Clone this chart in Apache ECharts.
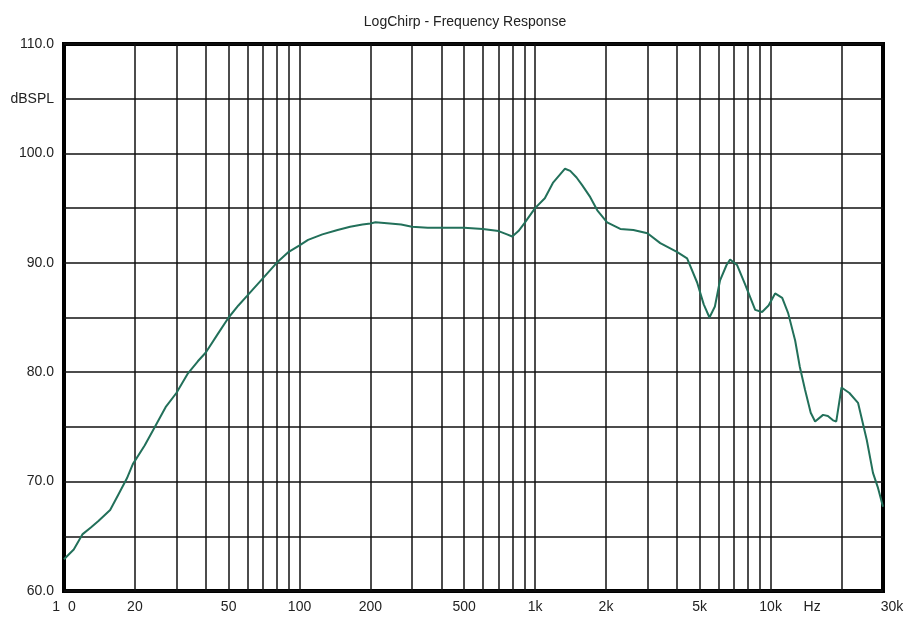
<!DOCTYPE html>
<html>
<head>
<meta charset="utf-8">
<title>LogChirp - Frequency Response</title>
<script src="https://cdn.jsdelivr.net/npm/echarts@6/dist/echarts.min.js"></script>
<style>
    html, body { margin: 0; padding: 0; background: #fff; }
    #chart { width: 906px; height: 624px; }
</style>
</head>
<body>
<div id="chart"></div>
<script>
// measured response (Hz, dBSPL)
const freqs = [
    10, 11, 12, 13, 14, 15.7, 17, 18.5, 19.6, 22, 24.3, 27, 30, 33.6, 37, 40, 45, 50, 55, 60,
    70, 80, 90, 100, 108.7, 125, 145, 164, 185, 200, 210, 242, 270, 300, 350, 400, 500, 600,
    700, 760, 800, 850, 900, 1000, 1100, 1190, 1340, 1410, 1500, 1584, 1715, 1837, 2022, 2300,
    2614, 3000, 3400, 4000, 4420, 4875, 5200, 5500, 5800, 6100, 6500, 6730, 7200, 7800, 8600,
    9200, 9800, 10450, 11200, 11870, 12710, 13300, 14000, 14800, 15450, 16700, 17500, 18400,
    19000, 20000, 21600, 23500, 25600, 27200, 28500, 30000
]
const spl = [
    62.9, 63.8, 65.2, 65.8, 66.4, 67.4, 68.8, 70.3, 71.6, 73.3, 75.0, 76.8, 78.1, 79.9, 81.0, 81.8, 83.5, 85.0, 86.1, 87.0,
    88.6, 90.0, 91.0, 91.6, 92.1, 92.6, 93.0, 93.3, 93.5, 93.6, 93.7, 93.6, 93.5, 93.3, 93.2, 93.2, 93.2, 93.1,
    92.9, 92.6, 92.4, 92.9, 93.6, 95.0, 95.9, 97.3, 98.6, 98.4, 97.8, 97.1, 96.0, 94.8, 93.7, 93.1,
    93.0, 92.7, 91.8, 91.0, 90.4, 88.2, 86.2, 85.0, 86.0, 88.4, 89.8, 90.3, 89.8, 88.0, 85.7,
    85.5, 86.1, 87.2, 86.8, 85.4, 82.9, 80.5, 78.4, 76.3, 75.5, 76.1, 76.0, 75.6,
    75.5, 78.6, 78.1, 77.2, 73.8, 70.8, 69.5, 67.7
]

// vertical grid lines (1-2-3...9 per decade)
const gridFreqs = [
    20, 30, 40, 50, 60, 70, 80, 90, 100,
    200, 300, 400, 500, 600, 700, 800, 900, 1000,
    2000, 3000, 4000, 5000, 6000, 7000, 8000, 9000, 10000,
    20000
]

// x tick labels
const xTickValues = [10, 20, 50, 100, 200, 500, 1000, 2000, 5000, 10000, 15000, 30000]
const xTickLabels = ['1  0', '20', '50', '100', '200', '500', '1k', '2k', '5k', '10k', 'Hz', '30k']

const chart = echarts.init(document.getElementById('chart'))

chart.setOption({
    animation: false,
    backgroundColor: '#fff',
    title: {
        text: 'LogChirp - Frequency Response',
        left: 460,
        top: 10,
        textAlign: 'center',
        textStyle: {
            fontFamily: 'Liberation Sans',
            fontSize: 14,
            fontWeight: 'normal',
            color: '#222'
        }
    },
    grid: {
        left: 64,
        right: 23,
        top: 44,
        bottom: 33,
        show: true,
        borderColor: '#000',
        borderWidth: 4
    },
    xAxis: {
        type: 'log',
        logBase: 10,
        min: 10,
        max: 30000,
        axisLine: { show: false },
        axisTick: { show: false },
        axisLabel: { show: false },
        splitLine: { show: false },
        minorSplitLine: { show: false }
    },
    yAxis: {
        type: 'value',
        min: 60,
        max: 110,
        interval: 5,
        axisLine: { show: false },
        axisTick: { show: false },
        axisLabel: {
            margin: 10,
            fontFamily: 'Liberation Sans',
            fontSize: 14,
            color: '#222',
            formatter: function (v) {
                if (v === 105) return 'dBSPL'
                return v % 10 === 0 ? v.toFixed(1) : ''
            }
        },
        splitLine: {
            lineStyle: { color: '#111', width: 1.5 }
        }
    },
    series: [
        {
            // vertical grid lines
            name: 'grid',
            type: 'line',
            data: [],
            silent: true,
            z: 1,
            markLine: {
                silent: true,
                symbol: 'none',
                animation: false,
                label: { show: false },
                lineStyle: { color: '#111', width: 1.5, type: 'solid' },
                data: gridFreqs.map(f => ({ xAxis: f }))
            }
        },
        {
            // x tick labels under the frame
            name: 'xlabels',
            type: 'line',
            data: [],
            silent: true,
            z: 1,
            markLine: {
                silent: true,
                symbol: 'none',
                animation: false,
                lineStyle: { color: 'rgba(0,0,0,0)', width: 0 },
                label: {
                    show: true,
                    position: 'start',
                    distance: 9,
                    fontFamily: 'Liberation Sans',
                    fontSize: 14,
                    color: '#222'
                },
                data: xTickValues.map((v, i) => ({
                    xAxis: v,
                    label: {
                        formatter: xTickLabels[i],
                        color: '#222',
                        // the last label sits a bit right of the frame
                        padding: i === xTickValues.length - 1 ? [0, 0, 0, 18] : 0
                    }
                }))
            }
        },
        {
            name: 'SPL',
            type: 'line',
            z: 5,
            smooth: false,
            showSymbol: false,
            lineStyle: { color: '#22705a', width: 2 },
            itemStyle: { color: '#22705a' },
            data: freqs.map((f, i) => [f, spl[i]])
        }
    ]
})
</script>
</body>
</html>
